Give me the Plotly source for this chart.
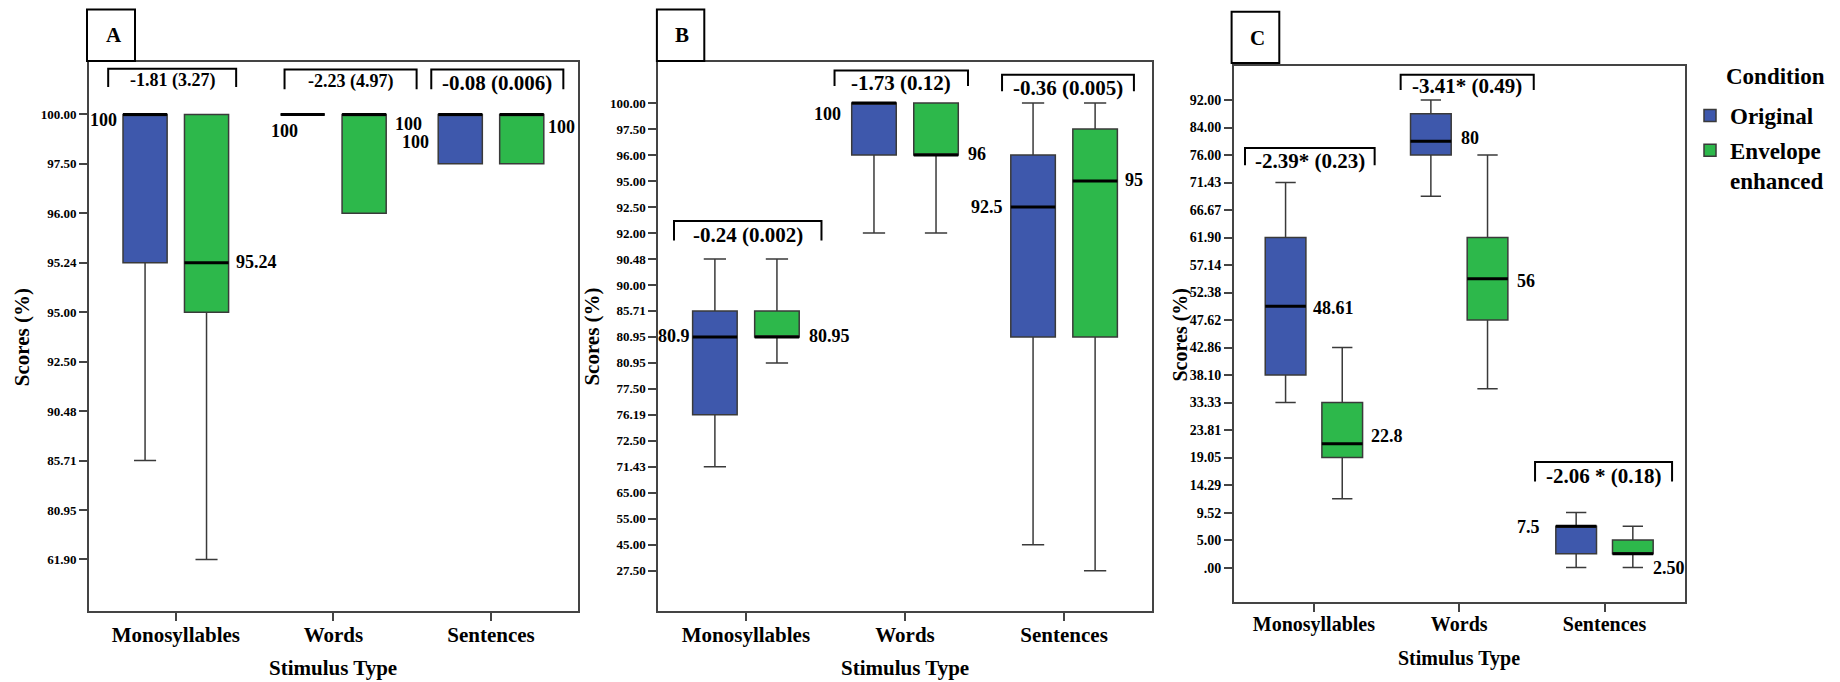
import plotly.graph_objects as go

FONT = "Liberation Serif"
W, H = 1840, 682
BLUE = "#3e58ac"
GREEN = "#2db84b"
EDGE = "#3a3a3a"

CATEGORIES = ["Monosyllables", "Words", "Sentences"]
CONDITIONS = ["Original", "Envelope<br>enhanced"]

# The score axes are ordinal (evenly spaced tick labels). Tick labels are listed
# bottom -> top; box statistics are read as positions on that ordinal axis.
# ---------------- Panel A ----------------
A_TICKS = ["61.90", "80.95", "85.71", "90.48", "92.50", "95.00", "95.24", "96.00", "97.50", "100.00"]
A_ORIG_LOW = [2, 9, 8]
A_ORIG_Q1 = [6, 9, 8]
A_ORIG_MED = [9, 9, 9]
A_ORIG_Q3 = [9, 9, 9]
A_ORIG_HIGH = [9, 9, 9]
A_ENV_LOW = [0, 7, 8]
A_ENV_Q1 = [5, 7, 8]
A_ENV_MED = [6, 9, 9]
A_ENV_Q3 = [9, 9, 9]
A_ENV_HIGH = [9, 9, 9]
A_ORIG_LABELS = ["100", "100", "100"]
A_ENV_LABELS = ["95.24", "100", "100"]
A_EFFECTS = ["-1.81 (3.27)", "-2.23 (4.97)", "-0.08 (0.006)"]

# ---------------- Panel B ----------------
B_TICKS = ["27.50", "45.00", "55.00", "65.00", "71.43", "72.50", "76.19", "77.50", "80.95", "80.95",
           "85.71", "90.00", "90.48", "92.00", "92.50", "95.00", "96.00", "97.50", "100.00"]
B_ORIG_LOW = [4, 13, 1]
B_ORIG_Q1 = [6, 16, 9]
B_ORIG_MED = [9, 18, 14]
B_ORIG_Q3 = [10, 18, 16]
B_ORIG_HIGH = [12, 18, 18]
B_ENV_LOW = [8, 13, 0]
B_ENV_Q1 = [9, 16, 9]
B_ENV_MED = [9, 16, 15]
B_ENV_Q3 = [10, 18, 17]
B_ENV_HIGH = [12, 18, 18]
B_ORIG_LABELS = ["80.9", "100", "92.5"]
B_ENV_LABELS = ["80.95", "96", "95"]
B_EFFECTS = ["-0.24 (0.002)", "-1.73 (0.12)", "-0.36 (0.005)"]

# ---------------- Panel C ----------------
C_TICKS = [".00", "5.00", "9.52", "14.29", "19.05", "23.81", "33.33", "38.10", "42.86", "47.62",
           "52.38", "57.14", "61.90", "66.67", "71.43", "76.00", "84.00", "92.00"]
C_ORIG_LOW = [6, 13.5, 0]
C_ORIG_Q1 = [7, 15, 0.5]
C_ORIG_MED = [9.5, 15.5, 1.5]
C_ORIG_Q3 = [12, 16.5, 1.5]
C_ORIG_HIGH = [14, 17, 2]
C_ENV_LOW = [2.5, 6.5, 0]
C_ENV_Q1 = [4, 9, 0.5]
C_ENV_MED = [4.5, 10.5, 0.5]
C_ENV_Q3 = [6, 12, 1]
C_ENV_HIGH = [8, 15, 1.5]
C_ORIG_LABELS = ["48.61", "80", "7.5"]
C_ENV_LABELS = ["22.8", "56", "2.50"]
C_EFFECTS = ["-2.39* (0.23)", "-3.41* (0.49)", "-2.06 * (0.18)"]

DATA = {
    "A": dict(ticks=A_TICKS,
              orig=(A_ORIG_LOW, A_ORIG_Q1, A_ORIG_MED, A_ORIG_Q3, A_ORIG_HIGH),
              env=(A_ENV_LOW, A_ENV_Q1, A_ENV_MED, A_ENV_Q3, A_ENV_HIGH),
              olab=A_ORIG_LABELS, elab=A_ENV_LABELS, eff=A_EFFECTS),
    "B": dict(ticks=B_TICKS,
              orig=(B_ORIG_LOW, B_ORIG_Q1, B_ORIG_MED, B_ORIG_Q3, B_ORIG_HIGH),
              env=(B_ENV_LOW, B_ENV_Q1, B_ENV_MED, B_ENV_Q3, B_ENV_HIGH),
              olab=B_ORIG_LABELS, elab=B_ENV_LABELS, eff=B_EFFECTS),
    "C": dict(ticks=C_TICKS,
              orig=(C_ORIG_LOW, C_ORIG_Q1, C_ORIG_MED, C_ORIG_Q3, C_ORIG_HIGH),
              env=(C_ENV_LOW, C_ENV_Q1, C_ENV_MED, C_ENV_Q3, C_ENV_HIGH),
              olab=C_ORIG_LABELS, elab=C_ENV_LABELS, eff=C_EFFECTS),
}

# ---------------- layout (pixel geometry) ----------------
LAYOUT = {
    "A": dict(xdom=(88.8, 578), ydom=(62.2, 611.1), ypad=(1.046, 1.056), tickfs=13, catfs=21,
              ytitle=(22.2, 337), xtitle_y=667.7, box=(87, 9.6, 135, 60.9), letter=(114, 35.5),
              standoff=-4,
              brackets=[(-0.429, 0.383, 9.924, 9.554, 9.686, 18, True),
                        (0.690, 1.528, 9.906, 9.510, 9.670, 18, True),
                        (1.621, 2.459, 9.906, 9.510, 9.643, 21, True)],
              olabpos=[(-0.359, 8.895, "right"), (0.692, 8.674, "center"), (1.621, 8.438, "right")],
              elabpos=[(0.370, 6.01, "left"), (1.379, 8.806, "left"), (2.348, 8.737, "left")]),
    "B": dict(xdom=(658.1, 1151.9), ydom=(62.2, 611.1), ypad=(1.555, 1.574), tickfs=13, catfs=21,
              ytitle=(591.6, 337), xtitle_y=667.7, box=(656.9, 9.6, 704.3, 60.9), letter=(682, 35),
              standoff=-4,
              brackets=[(-0.452, 0.475, 13.462, 12.711, 12.927, 21, True),
                        (0.557, 1.396, 19.255, 18.654, 18.789, 21, True),
                        (1.610, 2.439, 19.089, 18.454, 18.570, 21, True)],
              olabpos=[(-0.340, 9.03, "right"), (0.611, 17.565, "right"), (1.629, 14.016, "right")],
              elabpos=[(0.383, 9.03, "left"), (1.384, 16.025, "left"), (2.372, 15.055, "left")]),
    "C": dict(xdom=(1233.7, 1684.7), ydom=(66.1, 602), ypad=(1.25, 1.233), tickfs=14, catfs=20,
              ytitle=(1179.5, 335), xtitle_y=658.5, box=(1231.6, 11.7, 1279.3, 63.1), letter=(1257, 38),
              standoff=-5,
              brackets=[(-0.474, 0.418, 15.258, 14.625, 14.785, 21, True),
                        (0.597, 1.513, 17.916, 17.364, 17.505, 21, True),
                        (1.522, 2.465, 3.836, 3.127, 3.349, 21, True)],
              olabpos=[(-0.021, 9.436, "left"), (1.0, 15.636, "left"), (1.567, 1.484, "right")],
              elabpos=[(0.376, 4.789, "left"), (1.382, 10.418, "left"), (2.319, 0.0, "left")]),
}

OFFSET = 0.195
BOXW = 0.28


def px_x(v):
    return v / W


def px_y(v):
    return 1 - v / H


fig = go.Figure()
annotations = []
shapes = []
layout_axes = {}

for i, key in enumerate(["A", "B", "C"], start=1):
    d = DATA[key]
    L = LAYOUT[key]
    xa = "x" if i == 1 else f"x{i}"
    ya = "y" if i == 1 else f"y{i}"
    n = len(d["ticks"])

    for cond_idx, (stats, color, off) in enumerate([(d["orig"], BLUE, -OFFSET), (d["env"], GREEN, OFFSET)]):
        low, q1, med, q3, high = stats
        xs = [c + off for c in range(len(CATEGORIES))]
        fig.add_trace(go.Box(
            x=xs, q1=q1, median=med, q3=q3, lowerfence=low, upperfence=high,
            width=BOXW, whiskerwidth=0.5, fillcolor=color,
            line=dict(color=EDGE, width=1.5), boxpoints=False,
            name=CONDITIONS[cond_idx], legendgroup=CONDITIONS[cond_idx],
            showlegend=(i == 1), hoverinfo="skip", xaxis=xa, yaxis=ya))
        mx, my = [], []
        for x, m in zip(xs, med):
            mx += [x - BOXW / 2, x + BOXW / 2, None]
            my += [m, m, None]
        fig.add_trace(go.Scatter(x=mx, y=my, mode="lines", line=dict(color="black", width=3),
                                 showlegend=False, hoverinfo="skip", xaxis=xa, yaxis=ya))

    axis_common = dict(showline=True, mirror=True, linecolor="#444", linewidth=1.5,
                       showgrid=False, zeroline=False, ticks="outside", ticklen=8,
                       tickwidth=1.5, tickcolor="#444", fixedrange=True)
    layout_axes["xaxis" if i == 1 else f"xaxis{i}"] = dict(
        domain=[px_x(L["xdom"][0]), px_x(L["xdom"][1])], range=[-0.552, 2.552],
        tickvals=list(range(len(CATEGORIES))), ticktext=CATEGORIES, anchor=ya,
        ticklabelstandoff=L["standoff"],
        tickfont=dict(family=FONT, size=L["catfs"], color="black", weight="bold"), **axis_common)
    layout_axes["yaxis" if i == 1 else f"yaxis{i}"] = dict(
        domain=[px_y(L["ydom"][1]), px_y(L["ydom"][0])],
        range=[-L["ypad"][0], n - 1 + L["ypad"][1]],
        tickvals=list(range(n)), ticktext=d["ticks"], anchor=xa,
        tickfont=dict(family=FONT, size=L["tickfs"], color="black", weight="bold"), **axis_common)

    # effect-size brackets
    for (x0, x1, ytop, yleg, ytext, fs, bold), txt in zip(L["brackets"], d["eff"]):
        shapes.append(dict(type="path", xref=xa, yref=ya,
                           path=f"M {x0},{yleg} L {x0},{ytop} L {x1},{ytop} L {x1},{yleg}",
                           line=dict(color="black", width=2)))
        annotations.append(dict(xref=xa, yref=ya, x=(x0 + x1) / 2, y=ytext, text=txt,
                                showarrow=False, xanchor="center", yanchor="middle",
                                font=dict(family=FONT, size=fs, color="black",
                                          weight="bold" if bold else "normal")))
    # median value labels
    for labs, poss in [(d["olab"], L["olabpos"]), (d["elab"], L["elabpos"])]:
        for txt, (x, y, anc) in zip(labs, poss):
            annotations.append(dict(xref=xa, yref=ya, x=x, y=y, text=txt, showarrow=False,
                                    xanchor=anc, yanchor="middle",
                                    font=dict(family=FONT, size=18, color="black", weight="bold")))
    # axis titles
    annotations.append(dict(xref="paper", yref="paper", x=px_x(L["ytitle"][0]), y=px_y(L["ytitle"][1]),
                            text="Scores (%)", textangle=-90, showarrow=False,
                            xanchor="center", yanchor="middle",
                            font=dict(family=FONT, size=L["catfs"], color="black", weight="bold")))
    annotations.append(dict(xref=xa, yref="paper", x=1, y=px_y(L["xtitle_y"]),
                            text="Stimulus Type", showarrow=False,
                            xanchor="center", yanchor="middle",
                            font=dict(family=FONT, size=L["catfs"], color="black", weight="bold")))
    # panel letter box
    bx0, by0, bx1, by1 = L["box"]
    shapes.append(dict(type="rect", xref="paper", yref="paper",
                       x0=px_x(bx0), x1=px_x(bx1), y0=px_y(by1), y1=px_y(by0),
                       line=dict(color="black", width=2)))
    annotations.append(dict(xref="paper", yref="paper", x=px_x(L["letter"][0]), y=px_y(L["letter"][1]),
                            text=key, showarrow=False, xanchor="center", yanchor="middle",
                            font=dict(family=FONT, size=21, color="black", weight="bold")))

# legend title
annotations.append(dict(xref="paper", yref="paper", x=px_x(1724), y=px_y(76), text="Condition",
                        showarrow=False, xanchor="left", yanchor="middle",
                        font=dict(family=FONT, size=23, color="black", weight="bold")))

fig.update_layout(
    width=W, height=H, margin=dict(l=0, r=0, t=0, b=0),
    paper_bgcolor="white", plot_bgcolor="white",
    boxmode="overlay",
    showlegend=True,
    legend=dict(x=px_x(1690), y=px_y(94), xanchor="left", yanchor="top",
                font=dict(family=FONT, size=23, color="black", weight="bold"),
                valign="top", tracegroupgap=2, bgcolor="rgba(0,0,0,0)"),
    annotations=annotations, shapes=shapes,
    **layout_axes,
)

fig.write_html("out.html", config={"displayModeBar": False},
               post_script="document.body.style.margin='0';document.body.style.overflow='hidden';")
